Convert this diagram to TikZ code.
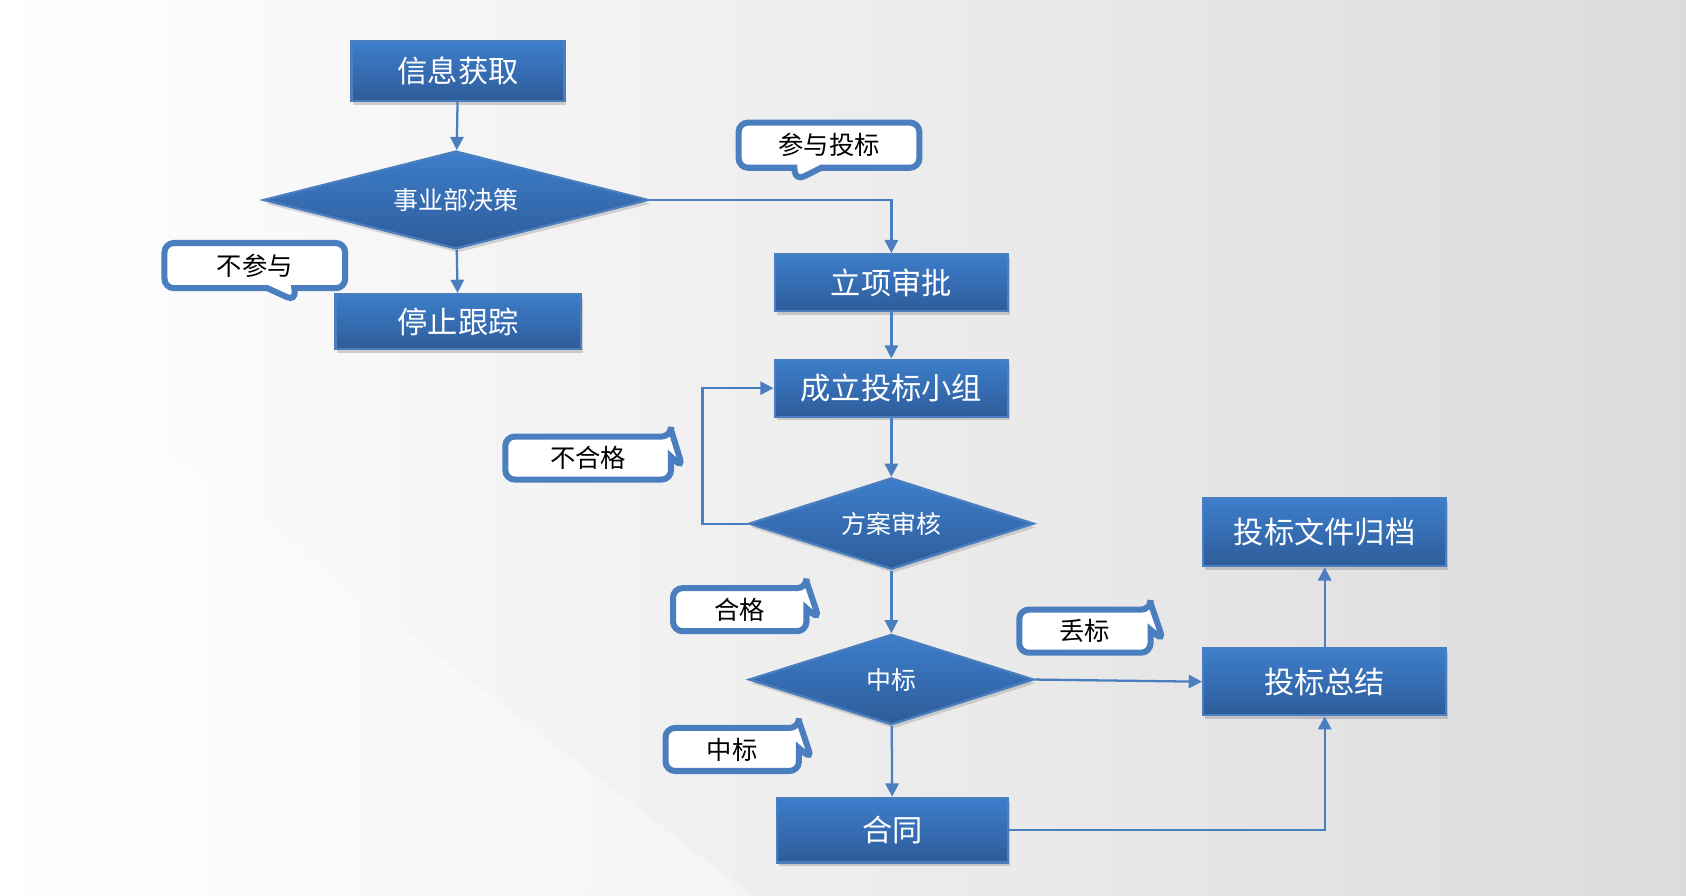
\documentclass[tikz,border=0pt]{standalone}
\usepackage{fontspec}
\newfontfamily\cjk{Noto Sans CJK SC}
\usetikzlibrary{shapes.geometric,shapes.callouts,shadows,arrows.meta}
\definecolor{boxtop}{HTML}{3D7ECB}
\definecolor{boxbot}{HTML}{2E5C9A}
\definecolor{edge}{HTML}{4A7EBF}
\begin{document}
\begin{tikzpicture}[x=0.01cm,y=-0.01cm,
    stage/.style={rectangle, draw=edge, line width=0.6pt, top color=boxtop, bottom color=boxbot,
      text=white, font=\cjk\fontsize{8}{9}\selectfont, drop shadow={opacity=0.35,shadow xshift=0.5pt,shadow yshift=-1pt}},
    check/.style={diamond, aspect=3.1, draw=edge, line width=0.6pt, top color=boxtop, bottom color=boxbot,
      text=white, font=\cjk\fontsize{6.6}{8}\selectfont, inner sep=0pt, drop shadow={opacity=0.3,shadow xshift=0.5pt,shadow yshift=-1pt}},
    tag/.style={rectangle callout, rounded corners=2.5pt, draw=edge, line width=1.6pt, fill=white,
      font=\cjk\fontsize{6.7}{8}\selectfont, inner sep=0pt},
    flow/.style={draw=edge, line width=0.6pt, -{Triangle[length=3.5pt,width=3.5pt]}}]
  % background
  \shade[left color=white, right color=black!14] (0,0) rectangle (1568,833);
  \fill[white, opacity=0.35] (0,833) -- (0,300) -- (700,833) -- cycle;
  % boxes
  \node[stage, minimum width=1.98cm, minimum height=0.56cm] (info) at (426,66) {信息获取};
  \node[check, minimum width=3.58cm, minimum height=0.91cm] (dept) at (424,186) {事业部决策};
  \node[stage, minimum width=2.28cm, minimum height=0.51cm] (stop) at (426,299) {停止跟踪};
  \node[stage, minimum width=2.17cm, minimum height=0.53cm] (approve) at (829,263) {立项审批};
  \node[stage, minimum width=2.17cm, minimum height=0.53cm] (team) at (829,361) {成立投标小组};
  \node[check, minimum width=2.65cm, minimum height=0.85cm] (review) at (829,487) {方案审核};
  \node[check, minimum width=2.65cm, minimum height=0.84cm] (win) at (829,632) {中标};
  \node[stage, minimum width=2.15cm, minimum height=0.60cm] (contract) at (830,772) {合同};
  \node[stage, minimum width=2.26cm, minimum height=0.62cm] (summary) at (1232,634) {投标总结};
  \node[stage, minimum width=2.26cm, minimum height=0.63cm] (archive) at (1232,495) {投标文件归档};
  % labels
  \node[tag, minimum width=1.68cm, minimum height=0.42cm, callout absolute pointer={(740,168)}] (join) at (771,135) {参与投标};
  \node[tag, minimum width=1.68cm, minimum height=0.42cm, callout absolute pointer={(275,280)}] (nojoin) at (237,247) {不参与};
  \node[tag, minimum width=1.54cm, minimum height=0.40cm, callout absolute pointer={(635,435)}] (fail) at (547,426) {不合格};
  \node[tag, minimum width=1.24cm, minimum height=0.40cm, callout absolute pointer={(762,576)}] (pass) at (688,567) {合格};
  \node[tag, minimum width=1.22cm, minimum height=0.40cm, callout absolute pointer={(1082,596)}] (lose) at (1009,587) {丢标};
  \node[tag, minimum width=1.24cm, minimum height=0.40cm, callout absolute pointer={(755,706)}] (won) at (681,697) {中标};
  % connectors
  \draw[flow] (info) -- (dept);
  \draw[flow] (dept) -- (stop);
  \draw[flow] (dept.east) -| (approve.north);
  \draw[flow] (approve) -- (team);
  \draw[flow] (team) -- (review);
  \draw[flow] (review.west) -- ++(-42,0) |- (team.west);
  \draw[flow] (review) -- (win);
  \draw[flow] (win.east) -- (summary.west);
  \draw[flow] (win) -- (contract);
  \draw[flow] (contract.east) -| (summary.south);
  \draw[flow] (summary) -- (archive);
\end{tikzpicture}
\end{document}
